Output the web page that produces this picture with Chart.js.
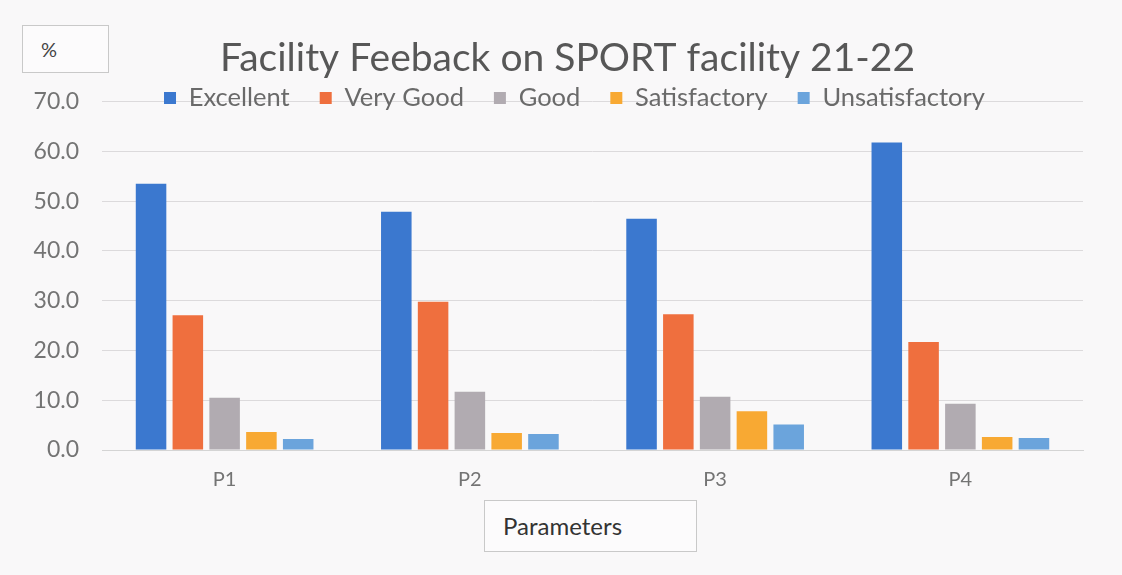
<!DOCTYPE html>
<html>
<head>
<meta charset="utf-8">
<script src="https://cdn.jsdelivr.net/npm/chart.js@4.4.1/dist/chart.umd.min.js"></script>
<style>
html, body { margin: 0; padding: 0; background: #f9f8f9; }
#wrap { position: relative; width: 1122px; height: 575px; }
canvas { position: absolute; left: 0; top: 0; }
.box { position: absolute; border: 1px solid #c9c9c9; background: #fcfbfc; font-family: Lato, sans-serif; color: #333; box-sizing: border-box; }
#yBox { left: 22px; top: 25px; width: 87px; height: 48px; font-size: 20px; padding: 11px 0 0 18px; color: #444; }
#xBox { left: 484px; top: 500px; width: 213px; height: 52px; font-size: 24px; padding: 10px 0 0 18px; }
</style>
</head>
<body>
<div id="wrap">
  <canvas id="feedbackChart" width="1122" height="575"></canvas>
  <div class="box" id="yBox">%</div>
  <div class="box" id="xBox">Parameters</div>
</div>
<script>
// values
const categories = ['P1', 'P2', 'P3', 'P4'];
const seriesNames = ['Excellent', 'Very Good', 'Good', 'Satisfactory', 'Unsatisfactory'];
const excellent = [53.5, 47.9, 46.5, 61.8];
const veryGood = [27.1, 29.8, 27.3, 21.7];
const good = [10.5, 11.7, 10.7, 9.3];
const satisfactory = [3.6, 3.4, 7.8, 2.6];
const unsatisfactory = [2.2, 3.2, 5.1, 2.4];
const yTicks = [0, 10, 20, 30, 40, 50, 60, 70];

const seriesColors = ['#3b78cf', '#ef6f3e', '#b1abb1', '#f8a933', '#6ba4dc'];
const seriesValues = [excellent, veryGood, good, satisfactory, unsatisfactory];

Chart.defaults.font.family = 'Lato, sans-serif';
Chart.defaults.color = '#747474';

function shiftDraw(box, dx, extraBottom) {
    const draw = box.draw;
    box.draw = function() {
        const ctx = this.ctx;
        const bottom = this.bottom;
        const height = this.height;
        this.bottom += extraBottom;
        this.height += extraBottom;
        ctx.save();
        ctx.translate(dx, 0);
        draw.call(this);
        ctx.restore();
        this.bottom = bottom;
        this.height = height;
    };
}

// title and legend sit a bit right of centre, legend overlaps the 70.0 line
const headerTweak = {
    id: 'headerTweak',
    afterInit(chart) {
        const legend = chart.legend;
        const fit = legend.fit;
        legend.fit = function() {
            fit.call(this);
            this.height -= 19;
        };
        shiftDraw(legend, 33, 25);
        shiftDraw(chart.titleBlock, 26, 0);
    }
};

const ctx = document.getElementById('feedbackChart').getContext('2d');
new Chart(ctx, {
    type: 'bar',
    data: {
        labels: categories,
        datasets: seriesNames.map((name, i) => ({
            label: name,
            data: seriesValues[i],
            backgroundColor: seriesColors[i],
            borderWidth: 0,
            barPercentage: 0.83,
            categoryPercentage: 0.75
        }))
    },
    options: {
        responsive: false,
        animation: false,
        layout: { padding: { left: 0, right: 39, top: 0, bottom: 0 } },
        scales: {
            x: {
                grid: { display: false, drawTicks: false },
                border: { color: '#d4d4d4' },
                ticks: { padding: 18, font: { size: 20 } },
                afterFit(scale) { scale.height = 125; }
            },
            y: {
                min: 0,
                max: 70,
                afterBuildTicks(scale) {
                    scale.ticks = yTicks.map(v => ({ value: v }));
                },
                ticks: {
                    padding: 23,
                    font: { size: 23 },
                    callback: v => v.toFixed(1)
                },
                grid: { color: '#dcdadc', drawTicks: false },
                border: { display: false },
                afterFit(scale) { scale.width = 102; }
            }
        },
        plugins: {
            title: {
                display: true,
                text: 'Facility Feeback on SPORT facility 21-22',
                color: '#575757',
                font: { size: 39, weight: 'normal' },
                padding: { top: 34.6, bottom: -26.2 }
            },
            legend: {
                position: 'top',
                labels: {
                    boxWidth: 12,
                    boxHeight: 12,
                    padding: 30,
                    color: '#6a6a6a',
                    font: { size: 25.5 }
                }
            },
            tooltip: { enabled: false }
        }
    },
    plugins: [headerTweak]
});
</script>
</body>
</html>
